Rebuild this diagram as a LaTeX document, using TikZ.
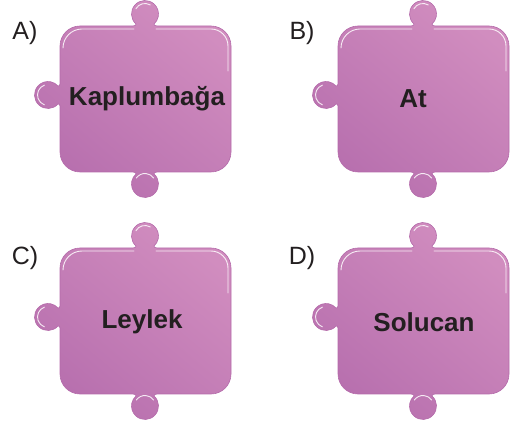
\documentclass[tikz,border=0pt]{standalone}
\usepackage{fontspec}
\setmainfont{Liberation Sans}
\usepackage{xcolor}
\usepackage{tikz}
\definecolor{pieceLight}{RGB}{209,141,191}
\definecolor{pieceDark}{RGB}{183,111,174}
\definecolor{pieceEdge}{RGB}{180,106,170}
\definecolor{ink}{RGB}{35,31,32}
% outline of one puzzle piece, origin at the top-left corner of its body
\newcommand{\piecepath}{(20,0) -- (73,0) to[out=0, in=-42.2] (75.93,2)
  arc[start angle=227.8, end angle=-47.8, radius=13.5] to[out=-137.8, in=180] (97,0) -- (151,0)
  arc[start angle=90, end angle=0, radius=20] -- (171,-126)
  arc[start angle=0, end angle=-90, radius=20] -- (97,-146) to[out=180, in=137.8] (94.07,-148)
  arc[start angle=47.8, end angle=-227.8, radius=13.5] to[out=42.2, in=0] (73,-146) -- (20,-146)
  arc[start angle=-90, end angle=-180, radius=20] -- (0,-80) to[out=90, in=47.8] (-2,-78.07)
  arc[start angle=-42.2, end angle=-317.8, radius=13.5] to[out=-47.8, in=-90] (0,-58) -- (0,-20)
  arc[start angle=180, end angle=90, radius=20] -- cycle}
\newcommand{\piecegloss}{%
  \draw[gloss] (3,-22) arc[start angle=180, end angle=90, radius=19] -- (74,-3)
    (96,-3) -- (151,-3) arc[start angle=90, end angle=0, radius=17] -- (168,-45);
  \draw[gloss] (85,12) ++(150:10.5) arc[start angle=150, end angle=60, radius=10.5];
  \draw[gloss] (-12,-69) ++(110:10.5) arc[start angle=110, end angle=250, radius=10.5];
  \draw[gloss] (85,-158) ++(145:10.5) arc[start angle=145, end angle=35, radius=10.5];}

\begin{document}
\begin{tikzpicture}[
    x=1pt, y=1pt,
    piece/.style={draw=pieceEdge, line width=0.6pt, top color=pieceLight, bottom color=pieceDark, shading angle=-40},
    gloss/.style={white, line width=0.9pt, opacity=0.85, line cap=round},
    word/.style={text=ink, font=\fontsize{26}{30}\selectfont\bfseries, inner sep=0pt},
    tag/.style={text=ink, font=\fontsize{25}{29}\selectfont, inner sep=0pt}
]
\useasboundingbox (0,0) rectangle (517,426);

\node[tag] (tagA) at (25,393) {A)};
\node[tag] (tagB) at (302,393) {B)};
\node[tag] (tagC) at (25,168) {C)};
\node[tag] (tagD) at (302,168) {D)};

\begin{scope}[shift={(60,400)}]
  \path[piece] \piecepath;
  \piecegloss
  \node[word] (wordA) at (87,-73) {Kaplumbağa};
\end{scope}

\begin{scope}[shift={(338,400)}]
  \path[piece] \piecepath;
  \piecegloss
  \node[word] (wordB) at (75,-73) {At};
\end{scope}

\begin{scope}[shift={(60,178)}]
  \path[piece] \piecepath;
  \piecegloss
  \node[word] (wordC) at (82,-74) {Leylek};
\end{scope}

\begin{scope}[shift={(338,178)}]
  \path[piece] \piecepath;
  \piecegloss
  \node[word] (wordD) at (86,-74) {Solucan};
\end{scope}
\end{tikzpicture}
\end{document}
